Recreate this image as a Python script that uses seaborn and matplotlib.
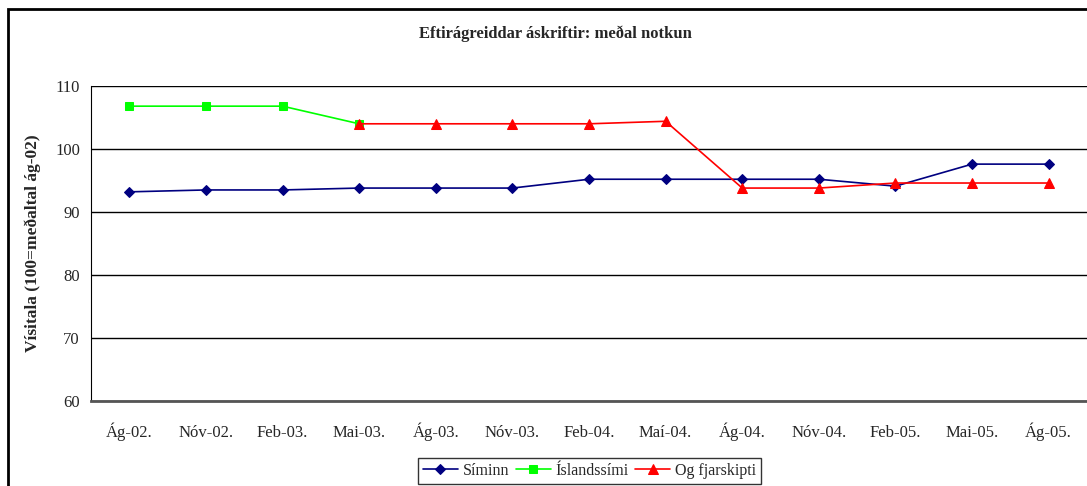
import numpy as np
import pandas as pd
import matplotlib.pyplot as plt
import seaborn as sns
from matplotlib.patches import Rectangle

# data
months = ['Ág-02.', 'Nóv-02.', 'Feb-03.', 'Mai-03.', 'Ág-03.', 'Nóv-03.', 'Feb-04.',
          'Maí-04.', 'Ág-04.', 'Nóv-04.', 'Feb-05.', 'Mai-05.', 'Ág-05.']
siminn = [93.2, 93.5, 93.5, 93.8, 93.8, 93.8, 95.2, 95.2, 95.2, 95.2, 94.1, 97.6, 97.6]
islandssimi = [106.8, 106.8, 106.8, 104.0] + [np.nan] * 9
og_fjarskipti = [np.nan] * 3 + [104.0, 104.0, 104.0, 104.0, 104.4, 93.8, 93.8, 94.6, 94.6, 94.6]

series = [('Síminn', siminn, '#000080', 'D', 5),
          ('Íslandssími', islandssimi, '#00ff00', 's', 6),
          ('Og fjarskipti', og_fjarskipti, '#ff0000', '^', 7)]

sns.set_style('white')
plt.rcParams['font.family'] = ['Liberation Serif', 'DejaVu Serif']

fig = plt.figure(figsize=(10.87, 4.86), dpi=100)
ax = fig.add_axes([91 / 1087, 1 - 401 / 486, 1 - 91 / 1087, (401 - 86) / 486])

x = np.arange(len(months))
for name, vals, color, marker, ms in series:
    df = pd.DataFrame({'x': x, 'y': vals}).dropna()
    sns.lineplot(data=df, x='x', y='y', ax=ax, color=color, marker=marker,
                 markersize=ms, markeredgecolor=color, linewidth=1.2, label=name)

ax.set_xlim(-0.5, len(months) - 0.5)
ax.set_ylim(60, 110)
ax.set_yticks([60, 70, 80, 90, 100, 110])
ax.yaxis.grid(True, color='black', linewidth=1)
ax.set_xticks(x)
ax.set_xticklabels(months, fontsize=12, va='baseline')
ax.set_xticks(np.arange(0.5, len(months) - 0.5), minor=True)
ax.tick_params(axis='x', which='major', length=0, pad=26)
ax.tick_params(axis='x', which='minor', length=5, width=1, color='black', direction='out')
ax.tick_params(axis='y', length=5, width=1, color='black', direction='out', labelsize=12, pad=3)
ax.set_xlabel('')
ax.set_ylabel('Vísitala (100=meðaltal ág-02)', fontsize=12.5, fontweight='bold', labelpad=10)

for side in ['top', 'right']:
    ax.spines[side].set_visible(False)
ax.spines['left'].set_color('black')
ax.spines['bottom'].set_color('#555555')
ax.spines['bottom'].set_linewidth(2)

fig.text(555 / 1087, 1 - 34 / 486, 'Eftirágreiddar áskriftir: meðal notkun',
         fontsize=12, fontweight='bold', ha='center', va='center')

leg = ax.legend(loc='upper center', bbox_to_anchor=(589.5 / 1087, 1 - 458 / 486),
                bbox_transform=fig.transFigure, ncol=3, fontsize=11.5, frameon=True,
                fancybox=False, borderpad=0.3, handlelength=2.2, columnspacing=0.4,
                handletextpad=0.3, borderaxespad=0)
leg.get_frame().set_edgecolor('black')
leg.get_frame().set_linewidth(1)

# outer chart frame
fig.patches.append(Rectangle((8 / 1087, -0.1), 1.2, 1 - 9 / 486 + 0.1, transform=fig.transFigure,
                             fill=False, edgecolor='black', linewidth=2, zorder=0))

fig.savefig('out.png', dpi=100)
